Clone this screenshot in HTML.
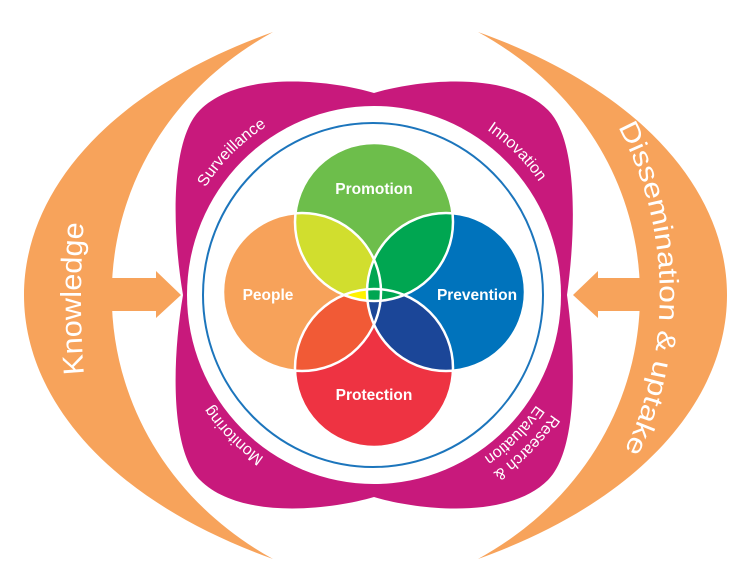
<!DOCTYPE html>
<html><head><meta charset="utf-8"><style>
html,body{margin:0;padding:0;background:#fff;}
svg{display:block;}
text{font-family:"Liberation Sans",sans-serif;}
</style></head><body>
<svg width="754" height="576" viewBox="0 0 754 576" xmlns="http://www.w3.org/2000/svg">
<defs>
<clipPath id="cPm"><circle cx="374" cy="222" r="79"/></clipPath>
<clipPath id="cPt"><circle cx="374" cy="368" r="79"/></clipPath>
<path id="ringO" d="M 160,295 A 214,214 0 1,1 588,295 A 214,214 0 1,1 160,295"/>
<path id="ringI" d="M 174,295 A 200,200 0 1,1 574,295 A 200,200 0 1,1 174,295"/>
<path id="ringB" d="M 178,295 A 196,196 0 1,1 570,295 A 196,196 0 1,1 178,295"/>
<path id="dissP" d="M617,125 C 674,230 674,360 617,465"/>
<path id="knowP" d="M84,374 C 80,330 80,265 84,221"/>
</defs>
<!-- orange crescents -->
<path d="M273,32 C -59,150 -59,440 273,559 C 58,440 58,150 273,32 Z" fill="#f7a35b"/>
<rect x="108" y="278" width="50" height="33" fill="#f7a35b"/>
<polygon points="156,271 181,295 156,318" fill="#f7a35b"/>
<path d="M478,32 C 810,150 810,440 478,559 C 694,440 694,150 478,32 Z" fill="#f7a35b"/>
<rect x="596" y="278" width="50" height="33" fill="#f7a35b"/>
<polygon points="598,271 573,295 598,318" fill="#f7a35b"/>
<text font-size="29" fill="#fff"><textPath href="#knowP" textLength="151" lengthAdjust="spacingAndGlyphs">Knowledge</textPath></text>
<text font-size="27" fill="#fff"><textPath href="#dissP" startOffset="2" textLength="336" lengthAdjust="spacingAndGlyphs">Dissemination &amp; uptake</textPath></text>
<!-- magenta shape -->
<path d="M374,93 C 330,80 240,70 200,110 C 170,140 172,230 183,295 C 172,360 170,450 200,480 C 240,520 330,510 374,497 C 418,510 508,520 548,480 C 578,450 576,360 567,295 C 576,230 578,140 548,110 C 508,70 418,80 374,93 Z" fill="#c8197c"/>
<ellipse cx="374" cy="295" rx="187" ry="189" fill="#fff"/>
<ellipse cx="373" cy="295" rx="170" ry="172" fill="none" stroke="#1c75bc" stroke-width="2"/>
<g font-size="16" fill="#fff">
<text><textPath href="#ringI" startOffset="12.5%" text-anchor="middle">Surveillance</textPath></text>
<text><textPath href="#ringI" startOffset="37.5%" text-anchor="middle">Innovation</textPath></text>
<text><textPath href="#ringB" startOffset="87.5%" text-anchor="middle">Monitoring</textPath></text>
<text><textPath href="#ringO" startOffset="62.5%" text-anchor="middle">Research &amp;</textPath></text>
<text><textPath href="#ringB" startOffset="62.5%" text-anchor="middle">Evaluation</textPath></text>
</g>
<!-- venn -->
<circle cx="374" cy="222" r="79" fill="#6dbe4b"/>
<circle cx="302" cy="292" r="79" fill="#f7a25a"/>
<circle cx="446" cy="292" r="79" fill="#0073bc"/>
<circle cx="374" cy="368" r="79" fill="#ee3342"/>
<g clip-path="url(#cPm)"><circle cx="302" cy="292" r="79" fill="#d1de2e"/><circle cx="446" cy="292" r="79" fill="#00a651"/></g>
<g clip-path="url(#cPt)"><circle cx="302" cy="292" r="79" fill="#f15a36"/><circle cx="446" cy="292" r="79" fill="#1b4698"/></g>
<g clip-path="url(#cPm)"><g clip-path="url(#cPt)"><circle cx="302" cy="292" r="79" fill="#fff200"/></g></g>
<g clip-path="url(#cPm)"><g clip-path="url(#cPt)"><circle cx="446" cy="292" r="79" fill="#00a651"/></g></g>
<g fill="none" stroke="#fff" stroke-width="2.5">
<circle cx="374" cy="222" r="79"/><circle cx="302" cy="292" r="79"/><circle cx="446" cy="292" r="79"/><circle cx="374" cy="368" r="79"/>
</g>
<g font-size="15.5" font-weight="bold" fill="#fff" text-anchor="middle">
<text x="374" y="194">Promotion</text>
<text x="268" y="300">People</text>
<text x="477" y="300">Prevention</text>
<text x="374" y="400">Protection</text>
</g>
</svg>
</body></html>
